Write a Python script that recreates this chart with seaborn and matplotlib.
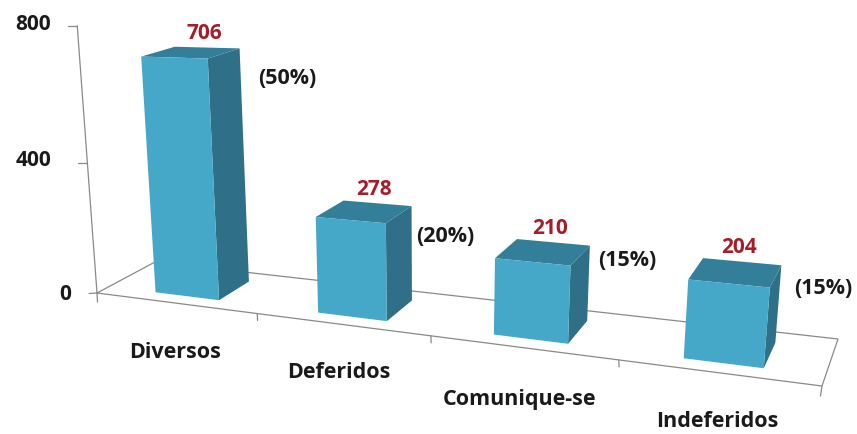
import numpy as np
import matplotlib
matplotlib.use("Agg")
import matplotlib.pyplot as plt
import matplotlib.transforms as mtransforms
from matplotlib.patches import Polygon
from matplotlib.lines import Line2D
import seaborn as sns

# --- dados ---
categorias = ["Diversos", "Deferidos", "Comunique-se", "Indeferidos"]
valores = [706, 278, 210, 204]
percentuais = ["(50%)", "(20%)", "(15%)", "(15%)"]
ticks_y = [0, 400, 800]

# --- posicoes dos textos (pixels) ---
pos_categorias = [(175, 353), (339, 373), (520, 400), (717, 422)]
pos_percentuais = [(287, 78), (445, 237), (627, 261), (823, 288)]
pos_ticks_y = [(65, 294), (33, 160), (33, 24)]

W, H = 857, 435

# --- "perspectiva" do grafico: cantos do piso + ponto de fuga vertical ---
cantos_piso = {(-0.5, 0): (97, 294), (3.5, 0): (822, 387),
               (-0.5, 1): (155, 263), (3.5, 1): (838, 340)}
fuga = np.array([430.0, 4800.0, 1.0])
k_altura = -7.0e-5
curva_x = 0.026
prof_frente, prof_fundo = 0.20, 0.76


def homografia(cantos):
    A, b = [], []
    for (x, d), (u, v) in cantos.items():
        A.append([x, d, 1, 0, 0, 0, -u * x, -u * d])
        A.append([0, 0, 0, x, d, 1, -v * x, -v * d])
        b += [u, v]
    h = np.linalg.solve(np.array(A, float), np.array(b, float))
    M = np.append(h, 1).reshape(3, 3)
    return M / (M[2] @ np.array([-0.5, 0, 1]))


M = homografia(cantos_piso)


def projeta(x, d, y):
    # categoria, profundidade, valor -> pixel (origem no topo)
    x, d, y = np.broadcast_arrays(x, d, y)
    x = x + curva_x * (x + 0.5) * (3.5 - x)
    base = M @ np.array([x, d, np.ones_like(x, dtype=float)], dtype=float)
    p = base + np.outer(fuga, y * k_altura).reshape(base.shape)
    return p[0] / p[2], p[1] / p[2]


def para_tela(x, d, y):
    u, v = projeta(x, d, y)
    return np.column_stack([u, H - v])


class Perspectiva(mtransforms.Transform):
    input_dims = output_dims = 2

    def __init__(self, prof):
        super().__init__()
        self.prof = prof

    def transform_non_affine(self, values):
        values = np.asarray(values, float)
        return para_tela(values[:, 0], self.prof, values[:, 1])


sns.set_theme(style="white")
plt.rcParams["font.family"] = ["Open Sans", "DejaVu Sans"]

fig = plt.figure(figsize=(W / 100, H / 100), dpi=100)
ax = fig.add_axes([0, 0, 1, 1])
sns.barplot(x=categorias, y=valores, color="#45A8C8", saturation=1, width=0.40, ax=ax)
ax.axis("off")

cor_lado, cor_topo = "#2F6F88", "#337F9A"
cor_linha = "#8A8A8A"
identidade = mtransforms.IdentityTransform()


def linha(pontos):
    pts = np.array(pontos, float)
    ax.add_artist(Line2D(pts[:, 0], H - pts[:, 1], transform=identidade, color=cor_linha, lw=0.9, zorder=1, clip_on=False))


# piso e eixos
n = len(categorias)
xs = np.array([-0.5, n - 0.5, n - 0.5, -0.5, -0.5])
ds = np.array([0, 0, 1, 1, 0])
u, v = projeta(xs, ds, 0)
linha(np.column_stack([u, v]))
for x in np.arange(0.5, n - 0.5):
    u0, v0 = projeta(x, 0, 0)
    linha([(u0, v0), (u0 + 0.3, v0 + 7)])
u0, v0 = projeta(n - 0.5, 0, 0)
linha([(u0, v0), (u0 - 1.5, v0 + 10)])
u0, v0 = projeta(-0.5, 0, 0)
linha([(u0, v0), (u0 + 0.5, v0 + 9)])
linha([(u0 - 8, v0 + 0.5), (u0, v0)])
topo = projeta(-0.5, 0, ticks_y[-1])
linha([(u0, v0), topo])
for t in ticks_y[1:]:
    ut, vt = projeta(-0.5, 0, t)
    linha([(ut - 9, vt), (ut, vt)])

# barras: frente vem do seaborn, lado e topo saem da mesma geometria
barras = list(ax.patches)
for barra in barras:
    barra.set_transform(Perspectiva(prof_frente))
    barra.set_clip_on(False)
    barra.set_linewidth(0)
    barra.set_zorder(4)
    x0, x1 = barra.get_x(), barra.get_x() + barra.get_width()
    y = barra.get_height()
    lado = para_tela([x1, x1, x1, x1], [prof_frente, prof_fundo, prof_fundo, prof_frente], [0, 0, y, y])
    cima = para_tela([x0, x1, x1, x0], [prof_frente, prof_frente, prof_fundo, prof_fundo], y)
    ax.add_patch(Polygon(lado, closed=True, transform=identidade, fc=cor_lado, ec="none", clip_on=False, zorder=3))
    ax.add_patch(Polygon(cima, closed=True, transform=identidade, fc=cor_topo, ec="none", clip_on=False, zorder=3))

# textos
def texto(px, py, s, **kw):
    fig.text(px / W, 1 - py / H, s, ha="center", va="center", fontweight="bold", **kw)


for barra, val in zip(barras, valores):
    xc = barra.get_x() + barra.get_width() / 2
    u1, v1 = projeta(xc, prof_fundo, val)
    texto(u1 - 3, v1 - 15, str(val), color="#A61C28", fontsize=15)
for (px, py), s in zip(pos_categorias, categorias):
    texto(px, py, s, color="#1A1A1A", fontsize=15.5)
for (px, py), s in zip(pos_percentuais, percentuais):
    texto(px, py, s, color="#1A1A1A", fontsize=15.5)
for (px, py), t in zip(pos_ticks_y, ticks_y):
    texto(px, py, str(t), color="#1A1A1A", fontsize=15)

fig.savefig("out.png", dpi=100, facecolor="white")
